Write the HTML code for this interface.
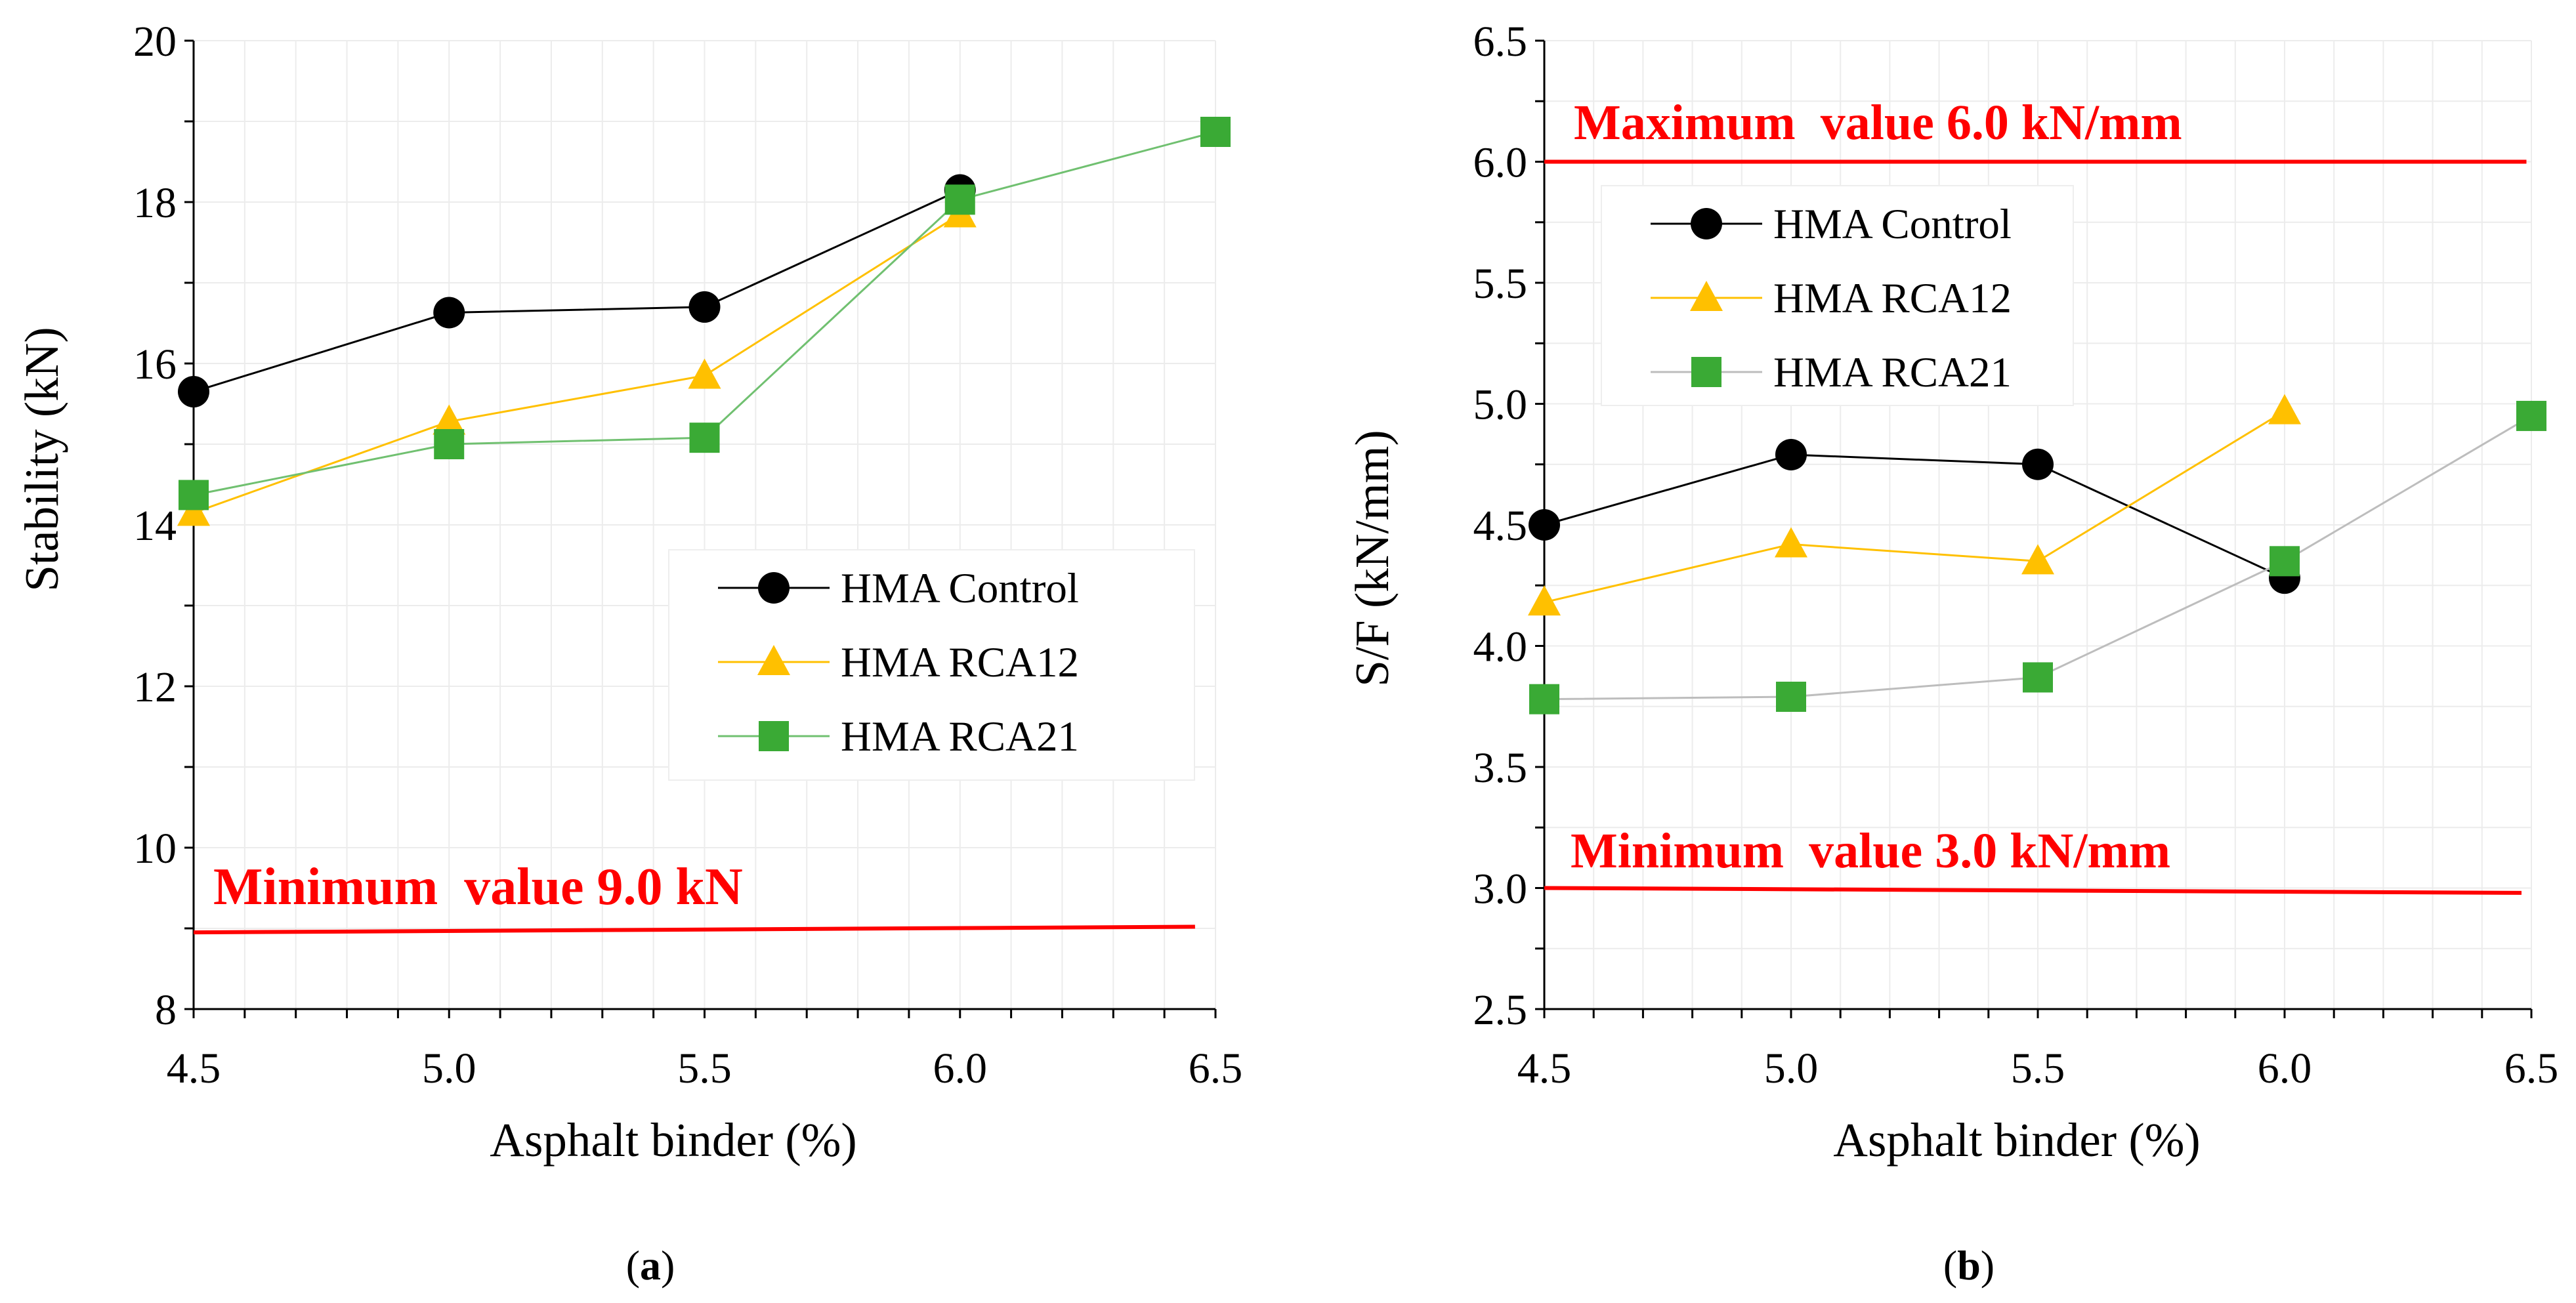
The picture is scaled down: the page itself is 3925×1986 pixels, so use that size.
<!DOCTYPE html>
<html><head><meta charset="utf-8"><style>html,body{margin:0;padding:0;background:#fff}svg{display:block}</style></head>
<body>
<svg id="chart" width="3925" height="1986" xmlns="http://www.w3.org/2000/svg" font-family="'Liberation Serif', serif"></svg>
<script>
const xCats = [4.5, 5.0, 5.5, 6.0, 6.5];
const xTickLabels = ["4.5","5.0","5.5","6.0","6.5"];
const aControl = [15.65, 16.63, 16.7, 18.15];
const aRCA12 = [14.15, 15.28, 15.85, 17.85];
const aRCA21 = [14.37, 15.0, 15.08, 18.03, 18.87];
const aYTicks = [8, 10, 12, 14, 16, 18, 20];
const aMinLine = [8.95, 9.02];
const bControl = [4.5, 4.79, 4.75, 4.28];
const bRCA12 = [4.18, 4.42, 4.35, 4.97];
const bRCA21 = [3.78, 3.79, 3.87, 4.35, 4.95];
const bYTicks = ["2.5","3.0","3.5","4.0","4.5","5.0","5.5","6.0","6.5"];
const bMaxLine = [6.0, 6.0];
const bMinLine = [3.0, 2.98];

const NS = "http://www.w3.org/2000/svg";
const svg = document.getElementById('chart');
function mk(tag, attrs, parent, text) {
  const e = document.createElementNS(NS, tag);
  for (const k in attrs) e.setAttribute(k, attrs[k]);
  if (text !== undefined) e.textContent = text;
  (parent || svg).appendChild(e);
  return e;
}

function panel(cfg) {
  const g = mk('g', {});
  
  
  const X = v => cfg.x0 + (v - 4.5) / 2 * (cfg.x1 - cfg.x0);
  const Y = v => cfg.yb - (v - cfg.ymin) / (cfg.ymax - cfg.ymin) * (cfg.yb - cfg.yt);
  for (let i = 1; i <= 20; i++) {
    const v = 4.5 + i * 0.1;
    const gl = mk('line', {x1: X(v), x2: X(v), y1: cfg.yt, y2: cfg.yb, stroke: '#ececec', 'stroke-width': 2}, g);
    
    
  }
  for (let v = cfg.ymin + cfg.minor; v <= cfg.ymax + 1e-9; v += cfg.minor) {
    const gl = mk('line', {x1: cfg.x0, x2: cfg.x1, y1: Y(v), y2: Y(v), stroke: '#ececec', 'stroke-width': 2}, g);
    
    
  }
  const ya = mk('line', {x1: cfg.x0, x2: cfg.x0, y1: cfg.yt, y2: cfg.yb, stroke: '#000', 'stroke-width': 3}, g);
   
  const xa = mk('line', {x1: cfg.x0, x2: cfg.x1, y1: cfg.yb, y2: cfg.yb, stroke: '#000', 'stroke-width': 3}, g);
   
  for (let i = 0; i <= 20; i++) {
    const v = 4.5 + i * 0.1;
    const t = mk('line', {x1: X(v), x2: X(v), y1: cfg.yb, y2: cfg.yb + 14, stroke: '#000', 'stroke-width': 3}, g);
     
  }
  for (let v = cfg.ymin; v <= cfg.ymax + 1e-9; v += cfg.minor) {
    const t = mk('line', {x1: cfg.x0 - 14, x2: cfg.x0, y1: Y(v), y2: Y(v), stroke: '#000', 'stroke-width': 3}, g);
     
  }
  xCats.forEach((v, i) => {
    const t = mk('text', {x: X(v), y: cfg.yb + 112, 'font-size': 66, 'text-anchor': 'middle'}, g, xTickLabels[i]);
     
  });
  cfg.yTicks.forEach(s => {
    const t = mk('text', {x: cfg.x0 - 26, y: Y(parseFloat(s)) + 23, 'font-size': 66, 'text-anchor': 'end'}, g, s);
     
  });
  const xt = mk('text', {x: cfg.xtx, y: 1762, 'font-size': 73, 'text-anchor': 'middle'}, g, 'Asphalt binder (%)');
   
  const yt = mk('text', {x: 0, y: 0, 'font-size': 73, 'text-anchor': 'middle', transform: `translate(${cfg.ytx},${cfg.yty}) rotate(-90)`}, g, cfg.ytitle);
   
  cfg.limits.forEach(L => {
    const l = mk('line', {x1: X(4.5), x2: X(L.xEnd), y1: Y(L.vals[0]), y2: Y(L.vals[1]), stroke: '#ff0000', 'stroke-width': 6}, g);
     
    const t = mk('text', {x: L.tx, y: L.ty, 'font-size': L.fs, 'font-weight': 'bold', fill: '#ff0000', style: 'white-space:pre'}, g, L.text);
     
  });
  cfg.series.forEach(s => {
    const pts = s.vals.map((v, i) => X(xCats[i]) + ',' + Y(v)).join(' ');
    const pl = mk('polyline', {points: pts, fill: 'none', stroke: s.line, 'stroke-width': 3}, g);
     
    s.vals.forEach((v, i) => {
      const m = marker(g, s.shape, X(xCats[i]), Y(v), s.fill);
       
    });
  });
  const lg = mk('g', {}, g);
   
  const lb = mk('rect', {x: cfg.lx, y: cfg.ly, width: cfg.lw, height: cfg.lh, fill: '#fff', stroke: '#eeeeee', 'stroke-width': 2}, lg);
   
  cfg.series.forEach((s, i) => {
    const cy = cfg.ly + 58 + i * 113;
    const e = mk('g', {}, lg);
     
    mk('line', {x1: cfg.lx + 75, x2: cfg.lx + 245, y1: cy, y2: cy, stroke: s.line, 'stroke-width': 3}, e);
    marker(e, s.shape, cfg.lx + 160, cy, s.fill);
    mk('text', {x: cfg.lx + 262, y: cy + 22, 'font-size': 65}, e, s.label);
  });
}
function marker(g, shape, x, y, fill) {
  if (shape === 'circle') return mk('circle', {cx: x, cy: y, r: 24, fill: fill}, g);
  if (shape === 'square') return mk('rect', {x: x - 23, y: y - 23, width: 46, height: 46, fill: fill}, g);
  return mk('polygon', {points: `${x},${y-26} ${x+25},${y+20} ${x-25},${y+20}`, fill: fill}, g);
}

panel({name: 'panel-a-stability', x0: 295, x1: 1852, yt: 62, yb: 1538, ymin: 8, ymax: 20, minor: 1,
  yTicks: aYTicks.map(String), ytitle: 'Stability (kN)', ytx: 88, yty: 700, xtx: 1026,
  limits: [{name: 'minimum-value', vals: aMinLine, xEnd: 6.46, tx: 325, ty: 1378, fs: 80, text: 'Minimum  value 9.0 kN'}],
  series: [
    {key: 'hma-control', label: 'HMA Control', vals: aControl, line: '#000', fill: '#000', shape: 'circle'},
    {key: 'hma-rca12', label: 'HMA RCA12', vals: aRCA12, line: '#ffc000', fill: '#ffc000', shape: 'tri'},
    {key: 'hma-rca21', label: 'HMA RCA21', vals: aRCA21, line: '#70c070', fill: '#3aaa35', shape: 'square'}],
  lx: 1019, ly: 838, lw: 801, lh: 351});
panel({name: 'panel-b-sf', x0: 2353, x1: 3857, yt: 62, yb: 1538, ymin: 2.5, ymax: 6.5, minor: 0.25,
  yTicks: bYTicks, ytitle: 'S/F (kN/mm)', ytx: 2115, yty: 851, xtx: 3073,
  limits: [{name: 'maximum-value', vals: bMaxLine, xEnd: 6.49, tx: 2398, ty: 212, fs: 76, text: 'Maximum  value 6.0 kN/mm'},
           {name: 'minimum-value', vals: bMinLine, xEnd: 6.48, tx: 2393, ty: 1322, fs: 76, text: 'Minimum  value 3.0 kN/mm'}],
  series: [
    {key: 'hma-control', label: 'HMA Control', vals: bControl, line: '#000', fill: '#000', shape: 'circle'},
    {key: 'hma-rca12', label: 'HMA RCA12', vals: bRCA12, line: '#ffc000', fill: '#ffc000', shape: 'tri'},
    {key: 'hma-rca21', label: 'HMA RCA21', vals: bRCA21, line: '#bdbdbd', fill: '#3aaa35', shape: 'square'}],
  lx: 2440, ly: 283, lw: 719, lh: 335});

const ca = mk('text', {x: 991, y: 1950, 'font-size': 64, 'text-anchor': 'middle'}, svg);
 
ca.innerHTML = '(<tspan font-weight="bold">a</tspan>)';
const cb = mk('text', {x: 3000, y: 1950, 'font-size': 64, 'text-anchor': 'middle'}, svg);
 
cb.innerHTML = '(<tspan font-weight="bold">b</tspan>)';
</script>
</body></html>
